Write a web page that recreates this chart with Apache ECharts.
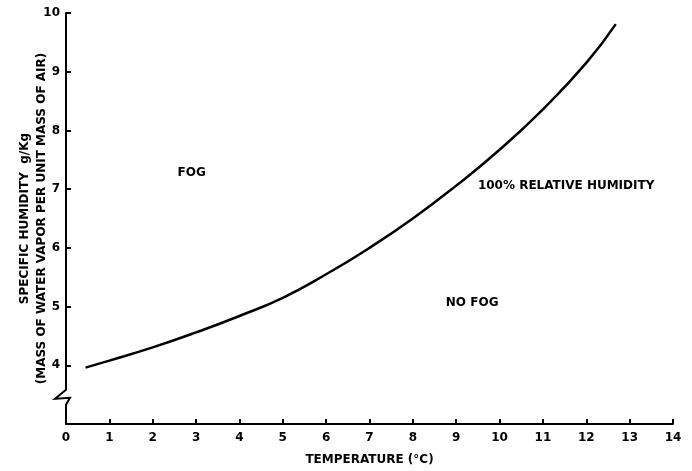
<!DOCTYPE html>
<html>
<head>
<meta charset="utf-8">
<script src="https://cdn.jsdelivr.net/npm/echarts@6/dist/echarts.min.js"></script>
<style>
html,body{margin:0;padding:0;background:#fff;}
#c{width:692px;height:471px;}
</style>
</head>
<body>
<div id="c"></div>
<script>
// Data
var temperature = [0.45, 1, 2, 3, 4, 5, 6, 7, 8, 9, 10, 11, 12, 12.68];
var specificHumidity = [3.96, 4.08, 4.305, 4.56, 4.84, 5.15, 5.55, 6.0, 6.5, 7.06, 7.67, 8.36, 9.15, 9.81];
var xTicks = [0, 1, 2, 3, 4, 5, 6, 7, 8, 9, 10, 11, 12, 13, 14];
var yTicks = [4, 5, 6, 7, 8, 9, 10];
var annotations = [
  {text: 'FOG', x: 2.9, y: 7.28, align: 'center'},
  {text: '100% RELATIVE HUMIDITY', x: 9.5, y: 7.05, align: 'left'},
  {text: 'NO FOG', x: 8.76, y: 5.07, align: 'left'}
];
var breakValue = 3.43;

var FONT = 'DejaVu Sans';
var chart = echarts.init(document.getElementById('c'));
var curve = temperature.map(function (t, i) { return [t, specificHumidity[i]]; });

chart.setOption({
  animation: false,
  backgroundColor: '#fff',
  grid: {left: 66, right: 19, top: 13, bottom: 47, containLabel: false, outerBoundsMode: 'none'},
  xAxis: {
    type: 'value', min: 0, max: 14, interval: 1,
    name: 'TEMPERATURE (°C)', nameLocation: 'middle', nameGap: 30, nameMoveOverlap: false,
    nameTextStyle: {fontFamily: FONT, fontSize: 12, fontWeight: 'bold', color: '#000'},
    axisLine: {show: true, lineStyle: {color: '#000', width: 2}},
    axisTick: {show: true, inside: true, length: 5, lineStyle: {color: '#000', width: 2}},
    axisLabel: {margin: 8, fontFamily: FONT, fontSize: 12, fontWeight: 'bold', color: '#000',
      formatter: function (v) { return xTicks.indexOf(v) >= 0 ? String(v) : ''; }},
    splitLine: {show: false}
  },
  yAxis: {
    type: 'value', min: 3, max: 10, interval: 1,
    name: 'SPECIFIC HUMIDITY  g/Kg\n(MASS OF WATER VAPOR PER UNIT MASS OF AIR)',
    nameLocation: 'middle', nameRotate: 90, nameGap: 16, nameMoveOverlap: false,
    nameTextStyle: {fontFamily: FONT, fontSize: 12, fontWeight: 'bold', color: '#000', lineHeight: 17},
    axisLine: {show: true, lineStyle: {color: '#000', width: 2}},
    axisTick: {show: true, inside: true, length: 5, lineStyle: {color: '#000', width: 2}},
    axisLabel: {margin: 6, fontFamily: FONT, fontSize: 12, fontWeight: 'bold', color: '#000',
      formatter: function (v) { return yTicks.indexOf(v) >= 0 ? String(v) : ''; }},
    splitLine: {show: false}
  },
  series: [{
    type: 'line', data: curve, smooth: 0.5, showSymbol: false,
    lineStyle: {color: '#000', width: 2.5}
  }]
});

function drawExtras() {
  var p = chart.convertToPixel({gridIndex: 0}, [0, breakValue]);
  var ax = p[0], cy = p[1];
  var g = [
    {type: 'rect', shape: {x: ax - 3, y: cy - 10, width: 6, height: 16}, style: {fill: '#fff'}, z: 100},
    {type: 'polyline', shape: {points: [[ax, cy - 11], [ax, cy - 9], [ax - 11, cy], [ax + 4, cy - 1], [ax, cy + 6], [ax, cy + 7]]},
      style: {stroke: '#000', lineWidth: 2, fill: null}, z: 101}
  ];
  annotations.forEach(function (a) {
    var q = chart.convertToPixel({gridIndex: 0}, [a.x, a.y]);
    g.push({type: 'text', x: q[0], y: q[1], z: 50,
      style: {text: a.text, fontFamily: FONT, fontSize: 12, fontWeight: 'bold', fill: '#000',
        align: a.align, verticalAlign: 'middle'}});
  });
  chart.setOption({graphic: g});
}
drawExtras();
</script>
</body>
</html>
